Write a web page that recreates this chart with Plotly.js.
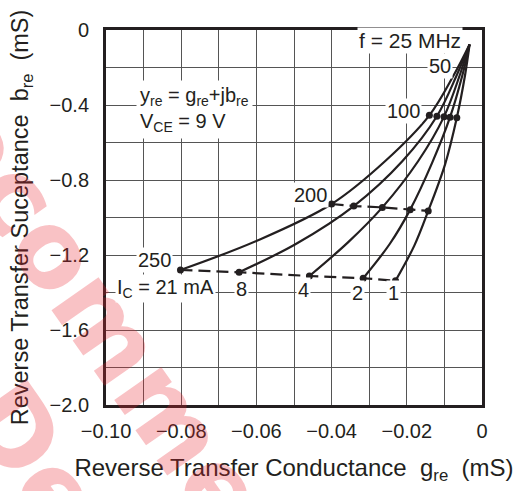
<!DOCTYPE html>
<html><head><meta charset="utf-8">
<script src="https://cdn.plot.ly/plotly-3.0.1.min.js"></script>
<style>html,body{margin:0;padding:0;background:#fff}#chart{width:523px;height:491px}</style>
</head><body><div id="chart"></div>
<script>
// Curve samples (from the common 25 MHz point to 250 MHz)
const gre21 = [-0.0033, -0.0075, -0.0140, -0.0258, -0.0400, -0.0600, -0.0802];
const bre21 = [-0.077, -0.240, -0.455, -0.700, -0.928, -1.125, -1.280];
const gre8  = [-0.0033, -0.0067, -0.0120, -0.0212, -0.0341, -0.0494, -0.0646];
const bre8  = [-0.077, -0.240, -0.460, -0.700, -0.939, -1.140, -1.292];
const gre4  = [-0.0033, -0.0059, -0.0101, -0.0170, -0.0265, -0.0355, -0.0459];
const bre4  = [-0.077, -0.240, -0.462, -0.700, -0.946, -1.130, -1.312];
const gre2  = [-0.0033, -0.0052, -0.0085, -0.0133, -0.0191, -0.0245, -0.0316];
const bre2  = [-0.077, -0.240, -0.465, -0.710, -0.958, -1.140, -1.324];
const gre1  = [-0.0033, -0.0045, -0.0067, -0.0098, -0.0143, -0.0180, -0.0230];
const bre1  = [-0.077, -0.240, -0.468, -0.715, -0.965, -1.150, -1.337];

// Marked frequency points (I_C = 21, 8, 4, 2, 1 mA)
const gre100 = [-0.0140, -0.0120, -0.0101, -0.0085, -0.0067];
const bre100 = [-0.455, -0.460, -0.462, -0.465, -0.468];
const gre200 = [-0.0400, -0.0341, -0.0265, -0.0191, -0.0143];
const bre200 = [-0.928, -0.939, -0.946, -0.958, -0.965];
const gre250 = [-0.0802, -0.0646, -0.0459, -0.0316, -0.0230];
const bre250 = [-1.280, -1.292, -1.312, -1.324, -1.337];

// Ticks
const xTickVals = [-0.10, -0.08, -0.06, -0.04, -0.02, 0];
const xTickText = ['\u22120.10', '\u22120.08', '\u22120.06', '\u22120.04', '\u22120.02', '0'];
const xMinorVals = [-0.09, -0.07, -0.05, -0.03, -0.01];
const yTickVals = [0, -0.4, -0.8, -1.2, -1.6, -2.0];
const yTickText = ['0', '\u22120.4', '\u22120.8', '\u22121.2', '\u22121.6', '\u22122.0'];
const yMinorVals = [-0.2, -0.6, -1.0, -1.4, -1.8];

const INK = '#231f20';
const FONT = 'Liberation Sans, Arial, Helvetica, sans-serif';
const GRID = '#555555';

const curves = [[gre21, bre21], [gre8, bre8], [gre4, bre4], [gre2, bre2], [gre1, bre1]];
const traces = curves.map(c => ({
  x: c[0], y: c[1], mode: 'lines', type: 'scatter',
  line: {color: INK, width: 2.2, shape: 'spline', smoothing: 1},
  hoverinfo: 'skip', showlegend: false
}));
traces.push({x: gre200, y: bre200, mode: 'lines', line: {color: INK, width: 2.2, dash: '12px,6px'}, showlegend: false});
traces.push({x: gre250, y: bre250, mode: 'lines', line: {color: INK, width: 2.2, dash: '12px,6px'}, showlegend: false});
[[gre100, bre100], [gre200, bre200], [gre250, bre250]].forEach(p => traces.push({
  x: p[0], y: p[1], mode: 'markers', marker: {color: INK, size: 7}, showlegend: false
}));

function lab(x, y, text, extra) {
  return Object.assign({x: x, y: y, xref: 'x', yref: 'y', text: text, showarrow: false,
    font: {family: FONT, size: 20, color: INK}, bgcolor: '#ffffff', borderpad: 1,
    xanchor: 'center', yanchor: 'middle'}, extra || {});
}

const annotations = [
  {xref: 'paper', yref: 'paper', x: -0.189, y: 0.163, xanchor: 'center', yanchor: 'middle',
   text: 'Not Recommended<br>for New Designs', showarrow: false, textangle: 55,
   font: {family: 'DejaVu Sans, sans-serif', size: 105, color: 'rgba(235,35,45,0.28)', weight: 'bold'}},
  lab(-0.0192, -0.056, 'f = 25 MHz', {font: {family: FONT, size: 21, color: INK}}),
  lab(-0.0113, -0.194, '50'),
  lab(-0.0208, -0.431, '100'),
  lab(-0.0456, -0.878, '200'),
  lab(-0.0870, -1.229, '250'),
  lab(-0.0843, -1.378, 'I<sub>C</sub> = 21 mA'),
  lab(-0.0640, -1.380, '8'),
  lab(-0.0476, -1.386, '4'),
  lab(-0.0330, -1.402, '2'),
  lab(-0.0235, -1.402, '1'),
  lab(-0.0920, -0.265, 'y<sub>re</sub> = g<sub>re</sub>+jb<sub>re</sub><br>V<sub>CE</sub> = 9 V',
      {xanchor: 'left', yanchor: 'top', align: 'left', borderpad: 3})
];

const axisCommon = {
  showline: true, mirror: true, linewidth: 3, linecolor: INK,
  showgrid: true, gridcolor: GRID, gridwidth: 1, zeroline: false,
  ticks: '', tickmode: 'array', tickfont: {family: FONT, size: 20, color: INK},
  fixedrange: true
};

const layout = {
  width: 523, height: 491,
  margin: {l: 106, r: 41, t: 30, b: 86},
  paper_bgcolor: '#ffffff', plot_bgcolor: '#ffffff',
  showlegend: false,
  xaxis: Object.assign({}, axisCommon, {
    range: [-0.10, 0], tickvals: xTickVals, ticktext: xTickText, ticklabelstandoff: 6,
    minor: {tickmode: 'array', tickvals: xMinorVals, showgrid: true, gridcolor: GRID, gridwidth: 1, ticks: ''},
    title: {text: 'Reverse Transfer Conductance  g<sub>re</sub>  (mS)', font: {family: FONT, size: 24, color: INK}, standoff: 19}
  }),
  yaxis: Object.assign({}, axisCommon, {
    range: [-2.0, 0], tickvals: yTickVals, ticktext: yTickText, ticklabelstandoff: 10,
    minor: {tickmode: 'array', tickvals: yMinorVals, showgrid: true, gridcolor: GRID, gridwidth: 1, ticks: ''},
    title: {text: 'Reverse Transfer Suceptance  b<sub>re</sub>  (mS)', font: {family: FONT, size: 23.5, color: INK}, standoff: 15}
  }),
  annotations: annotations
};

Plotly.newPlot('chart', traces, layout, {staticPlot: true, displayModeBar: false});
</script>
</body></html>
